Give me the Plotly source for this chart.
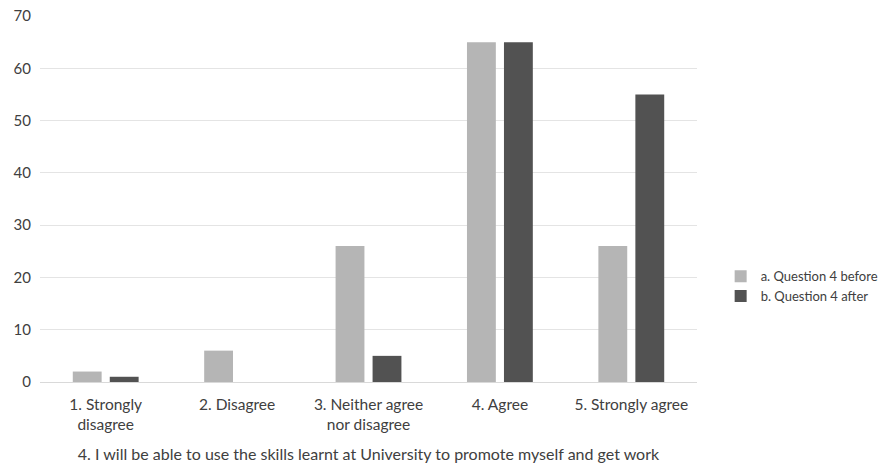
import plotly.graph_objects as go

categories = ["1. Strongly<br>disagree", "2. Disagree", "3. Neither agree<br>nor disagree",
              "4. Agree", "5. Strongly agree"]
before = [2, 6, 26, 65, 26]
after = [1, 0, 5, 65, 55]
y_ticks = [0, 10, 20, 30, 40, 50, 60, 70]

FONT = "Lato, 'Open Sans', sans-serif"
TEXT = "#404040"

fig = go.Figure()
fig.add_trace(go.Bar(x=categories, y=before, name="a. Question 4 before",
                     marker=dict(color="#b5b5b5", line=dict(width=0))))
fig.add_trace(go.Bar(x=categories, y=after, name="b. Question 4 after",
                     marker=dict(color="#525252", line=dict(width=0))))

fig.update_layout(
    width=880, height=469,
    margin=dict(l=40, r=183, t=16, b=87, autoexpand=False),
    plot_bgcolor="white", paper_bgcolor="white",
    barmode="group", bargap=0.437, bargroupgap=0.22,
    font=dict(family=FONT, size=15, color=TEXT),
    showlegend=True,
    legend=dict(x=1.036, y=0.33, xanchor="left", yanchor="top",
                font=dict(size=13, color=TEXT), tracegroupgap=0,
                itemwidth=30, bgcolor="rgba(0,0,0,0)"),
    xaxis=dict(showgrid=False, showline=False, ticks="",
               tickfont=dict(size=15.5, color=TEXT), ticklabelstandoff=11,
               title=dict(text="4. I will be able to use the skills learnt at University to promote myself and get work",
                          font=dict(size=16, color=TEXT), standoff=17)),
    yaxis=dict(range=[0, 70], tickvals=y_ticks, showgrid=True, gridcolor="#e4e4e4",
               gridwidth=1, zeroline=True, zerolinecolor="#d9d9d9", zerolinewidth=1,
               showline=False, ticks="", tickfont=dict(size=15, color=TEXT),
               ticklabelstandoff=8),
)

fig.write_html("out.html")
